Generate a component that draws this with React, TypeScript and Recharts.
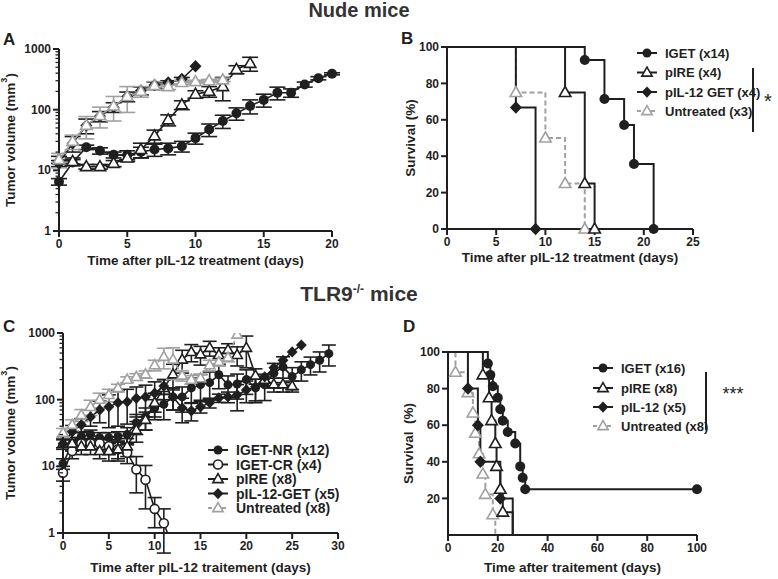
import React from 'react';
import { LineChart, Line, XAxis, YAxis, ErrorBar } from 'recharts';

const FONT = '"Liberation Sans", Arial, Helvetica, sans-serif';
const INK = '#1f1f1f';
const GREY = '#a0a0a0';

// ---- A: nude mice, tumour volume (mm3), mean +/- SEM ----
const A_DAYS = [0, 1, 2, 3, 4, 5, 6, 7, 8, 9, 10, 11, 12, 13, 14, 15, 16, 17, 18, 19, 20];
const A_IGET = [6.5, 13.5, 24, 21, 18, 18, 20, 22, 23, 25, 34, 47, 65, 87, 115, 145, 190, 190, 260, 330, 390];
const A_IGET_SEM = [0.8, 1.5, 2, 2.5, 2, 3, 4, 5, 5, 5, 7, 11, 16, 20, 30, 35, 45, 30, 25, 20, 15];
const A_PIRE = [15, 14, 11.5, 11.5, 13, 16, 22, 37, 68, 120, 180, 200, 240, 460, 580];
const A_PIRE_SEM = [2, 2, 1, 1, 1.5, 2, 6, 9, 14, 20, 25, 40, 100, 70, 150];
const A_PIL12 = [13, 28, 55, 78, 110, 165, 205, 255, 280, 320, 520];
const A_PIL12_SEM = [1.5, 8, 15, 15, 20, 30, 30, 30, 20, 20, 0];
const A_UNTR = [15, 30, 55, 80, 115, 165, 200, 250, 240, 280, 290, 300, 310];
const A_UNTR_SEM = [4, 8, 22, 30, 50, 75, 40, 40, 25, 20, 15, 15, 20];
const A_XTICKS = [0, 5, 10, 15, 20];

// ---- B: nude mice survival (%) ----
const B_IGET_T = [0, 14, 16, 18, 19, 21];
const B_IGET_S = [100, 92.9, 71.4, 57.1, 35.7, 0];
const B_PIRE_T = [0, 12, 14, 15];
const B_PIRE_S = [100, 75, 25, 0];
const B_PIL12_T = [0, 7, 9];
const B_PIL12_S = [100, 66.7, 0];
const B_UNTR_T = [0, 7, 10, 12, 14];
const B_UNTR_S = [100, 75, 50, 25, 0];
const B_XTICKS = [0, 5, 10, 15, 20, 25];
const B_LEGEND = ['IGET (x14)', 'pIRE (x4)', 'pIL-12 GET (x4)', 'Untreated (x3)'];

// ---- C: TLR9-/- mice, tumour volume (mm3) ----
const C_DAYS = [0, 1, 2, 3, 4, 5, 6, 7, 8, 9, 10, 11, 12, 13, 14, 15, 16, 17, 18, 19, 20, 21, 22, 23, 24, 25, 26, 27, 28, 29];
const C_NR = [11, 22, 28, 30, 27, 27, 28, 30, 45, 55, 75, 85, 110, 110, 150, 168, 180, 236, 167, 172, 200, 150, 167, 250, 310, 222, 280, 335, 390, 490];
const C_NR_SEM = [2, 5, 5, 5, 5, 5, 5, 8, 15, 20, 25, 35, 40, 45, 60, 70, 80, 90, 60, 70, 80, 60, 70, 100, 130, 80, 90, 100, 130, 170];
const C_CR = [8, 17, 22, 22, 22, 20, 18, 16, 9, 6.3, 2.3, 1.4, 0.6];
const C_CR_SEM = [2, 4, 4, 4, 4, 5, 5, 5, 5, 4, 1.1, 0.9, 0];
const C_PIRE = [22, 22, 20, 20, 17, 17, 18, 20, 35, 50, 90, 150, 240, 400, 520, 480, 600, 470, 560, 470, 600, 230, 200, 170, 170, 160];
const C_PIRE_SEM = [4, 5, 5, 5, 4, 5, 6, 6, 12, 15, 35, 50, 100, 150, 150, 150, 150, 130, 130, 150, 300, 60, 40, 40, 40, 30];
const C_PIL12 = [22, 33, 42, 55, 70, 78, 90, 93, 105, 110, 125, 160, 110, 75, 68, 78, 90, 106, 110, 118, 140, 156, 220, 300, 390, 520, 660];
const C_PIL12_SEM = [3, 8, 10, 15, 25, 40, 50, 50, 50, 55, 60, 40, 40, 30, 20, 15, 15, 15, 20, 50, 50, 60, 0, 0, 0, 0, 0];
const C_UNTR = [32, 42, 59, 78, 100, 118, 150, 200, 220, 240, 330, 440, 400, 230, 200, 210, 330, 370, 430, 950];
const C_UNTR_SEM = [5, 8, 12, 20, 25, 25, 20, 20, 25, 30, 60, 150, 200, 40, 30, 30, 60, 50, 60, 0];
const C_XTICKS = [0, 5, 10, 15, 20, 25, 30];
const C_LEGEND = ['IGET-NR (x12)', 'IGET-CR (x4)', 'pIRE (x8)', 'pIL-12-GET (x5)', 'Untreated (x8)'];

// ---- D: TLR9-/- mice survival (%) ----
const D_IGET_T = [0, 16, 17, 18, 20, 21, 22, 24, 27, 29, 30, 31, 100];
const D_IGET_S = [100, 93.75, 87.5, 81.25, 75, 68.75, 62.5, 56.25, 50, 37.5, 31.25, 25, 25];
const D_PIRE_T = [0, 14, 16.5, 17.5, 19, 19.5, 21, 22, 26];
const D_PIRE_S = [100, 87.5, 75, 62.5, 50, 37.5, 25, 12.5, 0];
const D_PIL12_T = [0, 8, 12, 13, 21, 26];
const D_PIL12_S = [100, 80, 60, 40, 20, 0];
const D_UNTR_T = [0, 3, 8, 10, 11, 12.5, 14, 15, 18, 19];
const D_UNTR_S = [100, 88.9, 77.8, 66.7, 55.6, 44.4, 33.3, 22.2, 11.1, 0];
const D_XTICKS = [0, 20, 40, 60, 80, 100];
const D_YTICKS = [20, 40, 60, 80, 100];
const D_LEGEND = ['IGET (x16)', 'pIRE (x8)', 'pIL-12 (x5)', 'Untreated (x8)'];

const SURV_TICKS = [0, 20, 40, 60, 80, 100];
const LOG_MAJOR = [1, 10, 100, 1000];
const LOG_TICKS = [1, 2, 3, 4, 5, 6, 7, 8, 9, 10, 20, 30, 40, 50, 60, 70, 80, 90, 100, 200, 300, 400, 500, 600, 700, 800, 900, 1000];

type Shape = 'circle' | 'ocircle' | 'tri' | 'diamond';

const growth = (days: number[], vals: number[], sem: number[]) =>
  vals.map((v, i) => ({ t: days[i], v, e: sem[i] }));
const survival = (t: number[], s: number[]) => s.map((v, i) => ({ t: t[i], s: v }));

function marker(shape: Shape, x: number, y: number, c: string, r: number) {
  if (shape === 'circle') return <circle cx={x} cy={y} r={r} fill={c} />;
  if (shape === 'ocircle') return <circle cx={x} cy={y} r={r} fill="#fff" stroke={c} strokeWidth={1.6} />;
  if (shape === 'tri')
    return (
      <path
        d={`M${x},${y - r * 1.2}L${x + r * 1.15},${y + r * 0.8}L${x - r * 1.15},${y + r * 0.8}Z`}
        fill="#fff" stroke={c} strokeWidth={1.6} strokeLinejoin="miter"
      />
    );
  return <path d={`M${x},${y - r * 1.25}L${x + r * 1.2},${y}L${x},${y + r * 1.25}L${x - r * 1.2},${y}Z`} fill={c} />;
}

const dotFor = (shape: Shape, c: string, r: number, skipFirst = false, skipZero = false) => (p: any) => {
  const key = `${shape}-${p.index}`;
  const val = p.payload ? (p.payload.s ?? p.payload.v) : null;
  if (p.cx == null || p.cy == null || (skipFirst && p.index === 0) || (skipZero && val === 0)) return <g key={key} />;
  return <g key={key}>{marker(shape, p.cx, p.cy, c, r)}</g>;
};

const tickStyle = { fontSize: 12, fontWeight: 'bold', fill: INK, fontFamily: FONT };
const axisStroke = { stroke: INK, strokeWidth: 2 };

function LogTick(props: any) {
  const { x, y, payload } = props;
  const major = LOG_MAJOR.includes(payload.value);
  return (
    <g>
      <line x1={x} x2={x - (major ? 6 : 3.5)} y1={y} y2={y} stroke={INK} strokeWidth={major ? 2 : 1.3} />
      {major && (
        <text x={x - 8} y={y} dy={4} textAnchor="end" {...tickStyle}>
          {payload.value}
        </text>
      )}
    </g>
  );
}

const yTitle = (content: React.ReactNode, x: number) => (props: any) => {
  const vb = props.viewBox;
  const cy = vb.y + vb.height / 2;
  return (
    <text x={x} y={cy} transform={`rotate(-90 ${x} ${cy})`} textAnchor="middle" dominantBaseline="central"
      fontSize={13.5} fontWeight="bold" fill={INK} fontFamily={FONT}>
      {content}
    </text>
  );
};

const mm3 = [
  <tspan key="a">Tumor volume (mm</tspan>,
  <tspan key="b" dy={-6} fontSize={9}>3</tspan>,
  <tspan key="c" dy={6}>)</tspan>,
];

const xTitle = (value: string, offset: number) => ({
  value, position: 'insideBottom' as const, offset, fill: INK, fontSize: 13.5, fontWeight: 'bold', fontFamily: FONT,
});

type GSeries = { rows: { t: number; v: number; e: number }[]; shape: Shape; color: string; r: number; dash?: string };

function GrowthChart(props: {
  w: number; h: number; margin: any; yw: number; xh: number; xmax: number; xticks: number[];
  xlabel: string; xoff: number; series: GSeries[]; cap: number;
}) {
  return (
    <LineChart width={props.w} height={props.h} margin={props.margin}>
      <XAxis type="number" dataKey="t" domain={[0, props.xmax]} ticks={props.xticks} allowDuplicatedCategory={false}
        height={props.xh} axisLine={axisStroke} tickLine={axisStroke} tick={tickStyle} label={xTitle(props.xlabel, props.xoff)} />
      <YAxis type="number" scale="log" domain={[1, 1000]} ticks={LOG_TICKS} interval={0} allowDataOverflow
        width={props.yw} axisLine={axisStroke} tickLine={false} tickSize={0} tickMargin={0}
        tick={(p: any) => <LogTick {...p} />} label={yTitle(mm3, 10)} />
      {props.series.map((s, i) => (
        <Line key={i} data={s.rows} dataKey="v" type="linear" stroke={s.color} strokeWidth={1.6}
          strokeDasharray={s.dash} dot={dotFor(s.shape, s.color, s.r)} activeDot={false} isAnimationActive={false}>
          <ErrorBar dataKey="e" width={props.cap} strokeWidth={1.6} stroke={s.color} direction="y" isAnimationActive={false} />
        </Line>
      ))}
    </LineChart>
  );
}

type SSeries = { rows: { t: number; s: number }[]; shape: Shape; color: string; dash?: string };

function SurvivalChart(props: {
  w: number; h: number; margin: any; yw: number; xh: number; xmax: number; xticks: number[]; yticks: number[];
  xlabel: string; xoff: number; ylabel: string; ylx: number; series: SSeries[]; skipZero: boolean;
}) {
  return (
    <LineChart width={props.w} height={props.h} margin={props.margin}>
      <XAxis type="number" dataKey="t" domain={[0, props.xmax]} ticks={props.xticks} allowDuplicatedCategory={false}
        height={props.xh} axisLine={axisStroke} tickLine={axisStroke} tick={tickStyle} label={xTitle(props.xlabel, props.xoff)} />
      <YAxis type="number" domain={[0, 100]} ticks={props.yticks} interval={0} width={props.yw}
        axisLine={axisStroke} tickLine={axisStroke} tick={tickStyle} label={yTitle(props.ylabel, props.ylx)} />
      {props.series.map((s, i) => (
        <Line key={i} data={s.rows} dataKey="s" type="stepAfter" stroke={s.color} strokeWidth={2}
          strokeDasharray={s.dash} dot={dotFor(s.shape, s.color, 5, true, props.skipZero)} activeDot={false}
          isAnimationActive={false} />
      ))}
    </LineChart>
  );
}

function LegendItems(props: { x: number; ys: number[]; labels: string[]; shapes: Shape[]; colors: string[]; dashes: (string | undefined)[]; fs: number }) {
  return (
    <g>
      {props.labels.map((lab, i) => (
        <g key={lab}>
          <line x1={props.x - 10} x2={props.x + 10} y1={props.ys[i]} y2={props.ys[i]} stroke={props.colors[i]}
            strokeWidth={2} strokeDasharray={props.dashes[i]} />
          {marker(props.shapes[i], props.x, props.ys[i], props.colors[i], 4.5)}
          <text x={props.x + 18} y={props.ys[i]} dominantBaseline="central" fontSize={props.fs} fontWeight="bold"
            fill={INK} fontFamily={FONT}>
            {lab}
          </text>
        </g>
      ))}
    </g>
  );
}

const letter = { fontSize: 17, fontWeight: 'bold', fill: INK, fontFamily: FONT } as const;

export default function App() {
  const aSeries: GSeries[] = [
    { rows: growth(A_DAYS, A_IGET, A_IGET_SEM), shape: 'circle', color: INK, r: 5 },
    { rows: growth(A_DAYS, A_PIRE, A_PIRE_SEM), shape: 'tri', color: INK, r: 5 },
    { rows: growth(A_DAYS, A_PIL12, A_PIL12_SEM), shape: 'diamond', color: INK, r: 5 },
    { rows: growth(A_DAYS, A_UNTR, A_UNTR_SEM), shape: 'tri', color: GREY, r: 5 },
  ];
  const cSeries: GSeries[] = [
    { rows: growth(C_DAYS, C_NR, C_NR_SEM), shape: 'circle', color: INK, r: 4.5 },
    { rows: growth(C_DAYS, C_CR, C_CR_SEM), shape: 'ocircle', color: INK, r: 4.5 },
    { rows: growth(C_DAYS, C_PIRE, C_PIRE_SEM), shape: 'tri', color: INK, r: 4.5 },
    { rows: growth(C_DAYS, C_PIL12, C_PIL12_SEM), shape: 'diamond', color: INK, r: 4.5 },
    { rows: growth(C_DAYS, C_UNTR, C_UNTR_SEM), shape: 'tri', color: GREY, r: 4.5, dash: '5 3' },
  ];
  const bSeries: SSeries[] = [
    { rows: survival(B_UNTR_T, B_UNTR_S), shape: 'tri', color: GREY, dash: '5 3' },
    { rows: survival(B_IGET_T, B_IGET_S), shape: 'circle', color: INK },
    { rows: survival(B_PIRE_T, B_PIRE_S), shape: 'tri', color: INK },
    { rows: survival(B_PIL12_T, B_PIL12_S), shape: 'diamond', color: INK },
  ];
  const dSeries: SSeries[] = [
    { rows: survival(D_UNTR_T, D_UNTR_S), shape: 'tri', color: GREY, dash: '5 3' },
    { rows: survival(D_IGET_T, D_IGET_S), shape: 'circle', color: INK },
    { rows: survival(D_PIRE_T, D_PIRE_S), shape: 'tri', color: INK },
    { rows: survival(D_PIL12_T, D_PIL12_S), shape: 'diamond', color: INK },
  ];
  const legShapes: Shape[] = ['circle', 'tri', 'diamond', 'tri'];
  const legColors = [INK, INK, INK, GREY];
  const legDash = [undefined, undefined, undefined, '4 3'];

  return (
    <div style={{ position: 'absolute', left: 0, top: 0, width: 778, height: 579, background: '#fff', fontFamily: FONT }}>
      <div style={{ position: 'absolute', left: 0, top: 30 }}>
        <GrowthChart w={345} h={265} margin={{ top: 19, right: 13, bottom: 28, left: 0 }} yw={59} xh={36} xmax={20}
          xticks={A_XTICKS} xlabel="Time after pIL-12 treatment (days)" xoff={2} series={aSeries} cap={8} />
      </div>
      <div style={{ position: 'absolute', left: 380, top: 30 }}>
        <SurvivalChart w={398} h={265} margin={{ top: 17, right: 85, bottom: 30, left: 0 }} yw={67} xh={36} xmax={25}
          xticks={B_XTICKS} yticks={SURV_TICKS} xlabel="Time after pIL-12 treatment (days)" xoff={3}
          ylabel="Survival (%)" ylx={30} series={bSeries} skipZero={false} />
      </div>
      <div style={{ position: 'absolute', left: 0, top: 305 }}>
        <GrowthChart w={345} h={274} margin={{ top: 28, right: 7, bottom: 6, left: 0 }} yw={63} xh={40} xmax={30}
          xticks={C_XTICKS} xlabel="Time after pIL-12 traitement (days)" xoff={1} series={cSeries} cap={7} />
      </div>
      <div style={{ position: 'absolute', left: 390, top: 305 }}>
        <SurvivalChart w={388} h={274} margin={{ top: 47, right: 81, bottom: 4, left: 0 }} yw={58} xh={40} xmax={100}
          xticks={D_XTICKS} yticks={D_YTICKS} xlabel="Time after traitement (days)" xoff={3}
          ylabel={'Survival\u00a0 (%)'} ylx={18} series={dSeries} skipZero={true} />
      </div>

      <svg width={778} height={579} style={{ position: 'absolute', left: 0, top: 0, pointerEvents: 'none' }}>
        <text x={359} y={17} textAnchor="middle" fontSize={20} fontWeight="bold" fill="#333" fontFamily={FONT}>
          Nude mice
        </text>
        <text x={359} y={301} textAnchor="middle" fontSize={21} fontWeight="bold" fill="#333" fontFamily={FONT}>
          TLR9<tspan dy={-8} fontSize={12}>-/-</tspan>
          <tspan dy={8}> mice</tspan>
        </text>
        <text x={3} y={45} {...letter}>A</text>
        <text x={401} y={44} {...letter}>B</text>
        <text x={3} y={332} {...letter}>C</text>
        <text x={403} y={332} {...letter}>D</text>

        <LegendItems x={647} ys={[53, 72.5, 92, 111]} labels={B_LEGEND} shapes={legShapes} colors={legColors}
          dashes={legDash} fs={13} />
        <line x1={753} x2={753} y1={68} y2={132} stroke={INK} strokeWidth={2} />
        <text x={768} y={108} textAnchor="middle" fontSize={20} fill={INK} fontFamily={FONT}>*</text>

        <LegendItems x={218} ys={[450, 464.5, 479, 493.5, 508]} labels={C_LEGEND}
          shapes={['circle', 'ocircle', 'tri', 'diamond', 'tri']} colors={[INK, INK, INK, INK, GREY]}
          dashes={[undefined, undefined, undefined, undefined, '4 3']} fs={14} />

        <LegendItems x={603} ys={[368, 388, 407, 426]} labels={D_LEGEND} shapes={legShapes} colors={legColors}
          dashes={legDash} fs={13} />
        <line x1={706} x2={706} y1={372} y2={430} stroke={INK} strokeWidth={2} />
        <text x={733} y={400} textAnchor="middle" fontSize={18} fill={INK} fontFamily={FONT}>***</text>
      </svg>
    </div>
  );
}
